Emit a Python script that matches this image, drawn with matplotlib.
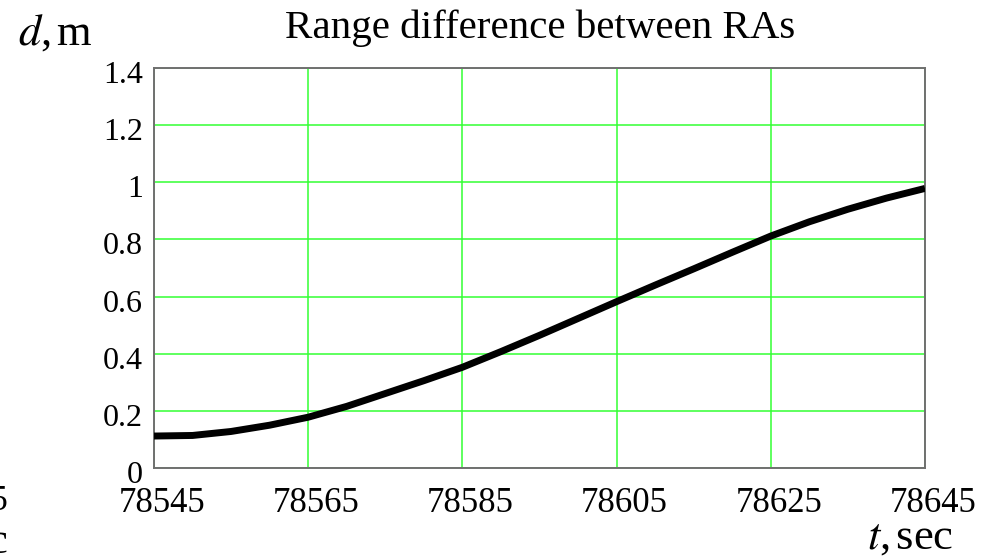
import matplotlib
matplotlib.use("Agg")
import matplotlib.pyplot as plt
from matplotlib.transforms import ScaledTranslation

# range difference between the two RAs, sampled every 5 s
t_sec = [78545, 78550, 78555, 78560, 78565, 78570, 78575, 78580, 78585, 78590, 78595,
         78600, 78605, 78610, 78615, 78620, 78625, 78630, 78635, 78640, 78645]
d_m = [0.111, 0.113, 0.127, 0.149, 0.177, 0.215, 0.260, 0.305, 0.352, 0.407, 0.464,
       0.523, 0.582, 0.640, 0.697, 0.755, 0.812, 0.862, 0.906, 0.945, 0.979]

x_ticks = [78545, 78565, 78585, 78605, 78625, 78645]
y_ticks = [0, 0.2, 0.4, 0.6, 0.8, 1, 1.2, 1.4]
y_labels = ["0", "0.2", "0.4", "0.6", "0.8", "1", "1.2", "1.4"]

plt.rcParams['font.family'] = ['Liberation Serif', 'DejaVu Serif']
plt.rcParams['mathtext.fontset'] = 'stix'

fig = plt.figure(figsize=(9.81, 5.6), dpi=100)
ax = fig.add_axes([154 / 981, 1 - 467.7 / 560, 771 / 981, 399.4 / 560])

ax.plot(t_sec, d_m, color='black', lw=5, solid_capstyle='butt', zorder=3)

ax.set_xlim(78545, 78645)
ax.set_ylim(0, 1.4)
ax.set_xticks(x_ticks)
ax.set_xticklabels([str(v) for v in x_ticks], fontsize=25)
ax.set_yticks(y_ticks)
ax.set_yticklabels(y_labels, fontsize=23)
ax.tick_params(length=0)
ax.tick_params(axis='x', pad=14)
ax.tick_params(axis='y', pad=8)
for lab in ax.get_xticklabels():
    lab.set_transform(lab.get_transform() + ScaledTranslation(0.08, 0, fig.dpi_scale_trans))
for lab in ax.get_yticklabels():
    lab.set_transform(lab.get_transform() + ScaledTranslation(0, -0.04, fig.dpi_scale_trans))

ax.grid(True, color='#33ff33', lw=1.1)
ax.set_axisbelow(True)
for s in ax.spines.values():
    s.set_color('#707070')
    s.set_linewidth(1.4)

fig.text(540 / 981, 1 - 38 / 560, "Range difference between RAs", fontsize=29.5,
         ha='center', va='baseline')
fig.text(18 / 981, 1 - 45 / 560, r"$d$,$\,$m", fontsize=32, ha='left', va='baseline')
fig.text(867 / 981, 1 - 549 / 560, r"$t$,$\,$sec", fontsize=32, ha='left', va='baseline')

# neighbouring panel's labels cut at the left edge
fig.text(8 / 981, 1 - 510 / 560, "78645", fontsize=25, ha='right', va='baseline')
fig.text(8 / 981, 1 - 553 / 560, r"$t$,$\,$sec", fontsize=32, ha='right', va='baseline')

fig.savefig("out.png", dpi=100)
